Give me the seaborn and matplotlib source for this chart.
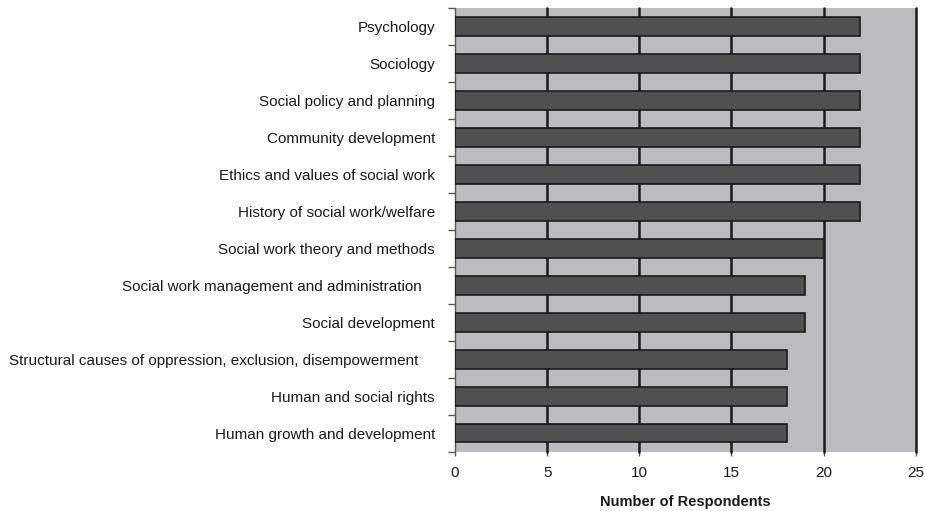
import matplotlib
matplotlib.use('Agg')
import matplotlib.pyplot as plt
import seaborn as sns
import pandas as pd

subjects = ['Psychology', 'Sociology', 'Social policy and planning', 'Community development',
            'Ethics and values of social work', 'History of social work/welfare',
            'Social work theory and methods', 'Social work management and administration   ',
            'Social development', 'Structural causes of oppression, exclusion, disempowerment    ',
            'Human and social rights', 'Human growth and development']
respondents = [22, 22, 22, 22, 22, 22, 20, 19, 19, 18, 18, 18]
x_ticks = [0, 5, 10, 15, 20, 25]

df = pd.DataFrame({'subject': subjects, 'n': respondents})

sns.set_style('white')
plt.rcParams['font.family'] = ['Liberation Sans', 'DejaVu Sans']

fig = plt.figure(figsize=(9.25, 5.11), dpi=100)
ax = fig.add_axes([0.492, 0.116, 0.498, 0.868])
ax.set_facecolor('#bbbcc0')

sns.barplot(data=df, x='n', y='subject', orient='h', color='#505050',
            edgecolor='#1a1a1a', linewidth=1.2, width=0.5, saturation=1, ax=ax, zorder=3)

ax.set_xlim(0, 25)
ax.set_xticks(x_ticks)
ax.set_ylim(len(subjects) - 0.5, -0.5)
for v in x_ticks[1:]:
    ax.axvline(v, color='#1a1a1a', lw=1.8, zorder=1, clip_on=False)

# y ticks sit between categories, labels at centres
ax.set_yticks([i + 0.5 for i in range(-1, len(subjects))], minor=False)
ax.set_yticklabels([])
ax.set_yticks(range(len(subjects)), minor=True)
ax.set_yticklabels(subjects, minor=True, fontsize=11, color='#1a1a1a')
ax.tick_params(axis='y', which='major', left=True, length=5, direction='out', color='#555555', width=1)
ax.tick_params(axis='y', which='minor', left=False, length=0, pad=14.5)
ax.tick_params(axis='x', bottom=True, length=3, width=1, color='#555555', direction='out',
               pad=7, labelsize=11, labelcolor='#1a1a1a')

for s in ['top', 'right', 'bottom']:
    ax.spines[s].set_visible(False)
ax.spines['left'].set_color('#555555')
ax.spines['left'].set_linewidth(1)

ax.set_xlabel('Number of Respondents', fontsize=10.5, fontweight='bold', labelpad=11, color='#1a1a1a')
ax.set_ylabel('')

plt.savefig('out.png', dpi=100)
